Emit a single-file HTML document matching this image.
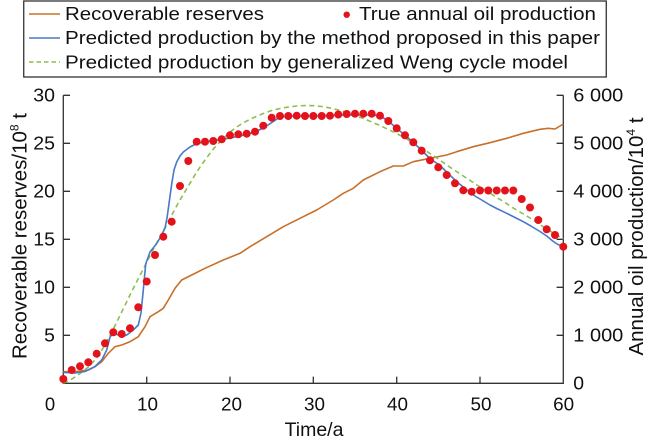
<!DOCTYPE html>
<html>
<head>
<meta charset="utf-8">
<style>
html,body{margin:0;padding:0;background:#fff;}
svg{display:block;font-family:"Liberation Sans",Arial,sans-serif;}
</style>
</head>
<body>
<svg width="650" height="444" viewBox="0 0 650 444" xmlns="http://www.w3.org/2000/svg">
<defs>
<marker id="dot" markerUnits="userSpaceOnUse" markerWidth="10" markerHeight="10" refX="5" refY="5" viewBox="0 0 10 10">
<circle cx="5" cy="5" r="4" fill="#E3121B"/>
</marker>
</defs>
<rect width="650" height="444" fill="#fff"/>

<rect x="23.75" y="1" width="582.5" height="76" fill="#fff" stroke="#222" stroke-width="1.2"/>
<line x1="29" y1="14" x2="60" y2="14" stroke="#C8702A" stroke-width="1.6"/>
<line x1="29" y1="38" x2="60" y2="38" stroke="#4878C8" stroke-width="1.6"/>
<line x1="29" y1="62" x2="60" y2="62" stroke="#8CBE50" stroke-width="1.6" stroke-dasharray="4.5 3"/>
<circle cx="346.7" cy="14.7" r="3.2" fill="#E3121B"/>
<g font-size="18.5" fill="#111">
<text x="65" y="20" textLength="199" lengthAdjust="spacingAndGlyphs">Recoverable reserves</text>
<text x="359" y="20" textLength="237" lengthAdjust="spacingAndGlyphs">True annual oil production</text>
<text x="65" y="44" textLength="535" lengthAdjust="spacingAndGlyphs">Predicted production by the method proposed in this paper</text>
<text x="65" y="68.3" textLength="503" lengthAdjust="spacingAndGlyphs">Predicted production by generalized Weng cycle model</text>
</g>

<path d="M63.3,95.3 V383.3 H563.3 V95.3" fill="none" stroke="#333" stroke-width="1.3"/>
<path stroke="#333" stroke-width="1.3" d="M63.3,95.3h6.7M63.3,143.3h6.7M63.3,191.3h6.7M63.3,239.3h6.7M63.3,287.3h6.7M63.3,335.3h6.7M563.3,95.3h-6.7M563.3,143.3h-6.7M563.3,191.3h-6.7M563.3,239.3h-6.7M563.3,287.3h-6.7M563.3,335.3h-6.7M146.7,383.3v-6.7M230,383.3v-6.7M313.3,383.3v-6.7M396.7,383.3v-6.7M480,383.3v-6.7"/>

<g font-size="18.5" fill="#111" text-anchor="end">
<text x="55" y="101.5" textLength="21.7" lengthAdjust="spacingAndGlyphs">30</text>
<text x="55" y="149.5" textLength="21.7" lengthAdjust="spacingAndGlyphs">25</text>
<text x="55" y="197.5" textLength="21.7" lengthAdjust="spacingAndGlyphs">20</text>
<text x="55" y="245.5" textLength="21.7" lengthAdjust="spacingAndGlyphs">15</text>
<text x="55" y="293.5" textLength="21.7" lengthAdjust="spacingAndGlyphs">10</text>
<text x="55" y="341.5" textLength="10.8" lengthAdjust="spacingAndGlyphs">5</text>
</g>

<g font-size="18.5" fill="#111">
<text x="573.3" y="101.7" textLength="50" lengthAdjust="spacingAndGlyphs">6 000</text>
<text x="573.3" y="149.7" textLength="50" lengthAdjust="spacingAndGlyphs">5 000</text>
<text x="573.3" y="197.7" textLength="50" lengthAdjust="spacingAndGlyphs">4 000</text>
<text x="573.3" y="245.7" textLength="50" lengthAdjust="spacingAndGlyphs">3 000</text>
<text x="573.3" y="293.7" textLength="50" lengthAdjust="spacingAndGlyphs">2 000</text>
<text x="573.3" y="341.7" textLength="50" lengthAdjust="spacingAndGlyphs">1 000</text>
<text x="573.3" y="389.7" textLength="10.8" lengthAdjust="spacingAndGlyphs">0</text>
</g>

<g font-size="18.5" fill="#111" text-anchor="middle">
<text x="50" y="410.7">0</text>
<text x="147.5" y="410.7" textLength="21" lengthAdjust="spacingAndGlyphs">10</text>
<text x="231.5" y="410.7" textLength="21" lengthAdjust="spacingAndGlyphs">20</text>
<text x="314.5" y="410.7" textLength="21" lengthAdjust="spacingAndGlyphs">30</text>
<text x="397.5" y="410.7" textLength="21" lengthAdjust="spacingAndGlyphs">40</text>
<text x="481" y="410.7" textLength="21" lengthAdjust="spacingAndGlyphs">50</text>
<text x="563.7" y="410.7" textLength="21" lengthAdjust="spacingAndGlyphs">60</text>
</g>

<text x="314" y="436" font-size="19.5" fill="#111" text-anchor="middle">Time/a</text>
<text transform="translate(26.5,236) rotate(-90)" font-size="20.5" fill="#111" text-anchor="middle">Recoverable reserves/10<tspan dy="-8" font-size="12">8</tspan><tspan dy="8"> t</tspan></text>
<text transform="translate(643,236.5) rotate(-90)" font-size="20.5" fill="#111" text-anchor="middle">Annual oil production/10<tspan dy="-8" font-size="12">4</tspan><tspan dy="8"> t</tspan></text>

<polyline fill="none" stroke="#C8702A" stroke-width="1.6" stroke-linejoin="round" points="63.3,371.7 75,371.7 88.3,370 95,366.7 101.7,361.7 108.3,353.3 115,346.7 121.7,345 130,341.7 138.3,336.7 145,326.7 150,316.7 158.3,311.7 163.3,308.3 168.3,300 175,288.3 181.7,280 191.7,275 205,268.3 223.3,260 240,253.3 250,246.7 266.7,236.7 283.3,226.7 300,218.3 316.7,210 333.3,200 343.3,193.3 353.3,188.3 363.3,180 380,171.7 393.3,166 403.3,166 413.3,161.7 430,158.3 446.7,155 456.7,151.7 473.3,146.7 490,142.7 506.7,138.3 523.3,133.3 540,129.3 548.3,128.3 555,129 560,126 563.3,124"/>

<polyline fill="none" stroke="#8CBE50" stroke-width="1.6" stroke-dasharray="5 3.5" stroke-linejoin="round" points="63.3,383.3 72,379 80,373.5 88.3,367 96.7,358 105,345 113.3,329 121.7,312 130,295 138.3,278.5 146.7,262.5 155,246 163.3,231 171.7,215 180,200 188.3,186 196.7,172 205,160 213.3,149 221.7,140 230,132 238.3,126 246.7,121 255,117 263.3,113.5 271.7,110.5 280,108.5 288.3,107 296.7,106 305,105.5 313.3,105.7 321.7,106.5 330,108 338.3,110 346.7,112.5 355,115.5 363.3,118.5 371.7,122 380,125.5 388.3,129.5 396.7,133.5 405,138 413.3,143 421.7,148 430,153.5 438.3,159 446.7,165 455,170.5 463.3,176 471.7,181.5 480,187 488.3,192 496.7,197.5 505,202.5 513.3,208 521.7,213 530,218 538.3,223.5 546.7,229 555,234 563.3,239"/>

<polyline fill="none" stroke="#4878C8" stroke-width="1.6" stroke-linejoin="round" points="63.3,372.5 75,373 85,371.5 95,366.5 101.7,360 106.7,350 110,337 113.3,333.3 118.3,335 121.7,337 126.7,335 133.3,330 138.3,325 141,313 143.3,290 145.7,264 150,252 156.7,243.5 161.7,235 165,228 167,218 169.5,200 171.7,184 174,170 176.7,162 180,156 183.3,152 190,147 196.7,143.5 205,142 213.3,140.5 221.7,139.5 230,138 240,136 250,133.5 257,131 263.3,128 268,125 273.3,121.5 280,117 290,116 300,116 313.3,116 330,115.5 346.7,115 363.3,115 372,115 380,115.7 388.3,121 396.7,128.3 405,135.3 413.3,142.3 421.7,150.5 430,158.5 440,165.5 446.7,172 456.7,181.7 463.3,187 473.3,195 480,199 490,205 496.7,208.5 506.7,213.3 515,217.5 523.3,221.7 530,225.5 540,231.5 546.7,236 553.3,241.5 558,244.5 563.3,246.5"/>

<polyline fill="none" stroke="none" marker-start="url(#dot)" marker-mid="url(#dot)" marker-end="url(#dot)" points="63.3,379 71.7,370 80,366.3 88.3,362.3 96.7,353.7 105,343.3 113.3,332.3 121.7,334 130,328.3 138.3,307.3 146.7,281.5 155,255 163.3,236.7 171.7,221.7 180,186 188.3,161 196.7,141.7 205,141.7 213.3,141 221.7,139.3 230,135.3 238.3,134.3 246.7,133.7 255,131.7 263.3,125.7 271.7,117.7 280,116 288.3,116 296.7,115.7 305,116 313.3,116 321.7,116 330,115.7 338.3,114.5 346.7,114 355,113.7 363.3,113.7 371.7,113.7 380,115.7 388.3,121 396.7,128.3 405,135.3 413.3,142.3 421.7,150.7 430,160.3 438.3,167.3 446.7,175 455,183.3 463.3,190.3 471.7,191.7 480,190.5 488.3,190.5 496.7,190.5 505,190.5 513.3,190.5 521.7,199 530,207.5 538.3,220 546.7,229.3 555,235 563.3,246.7"/>
</svg>
</body>
</html>
